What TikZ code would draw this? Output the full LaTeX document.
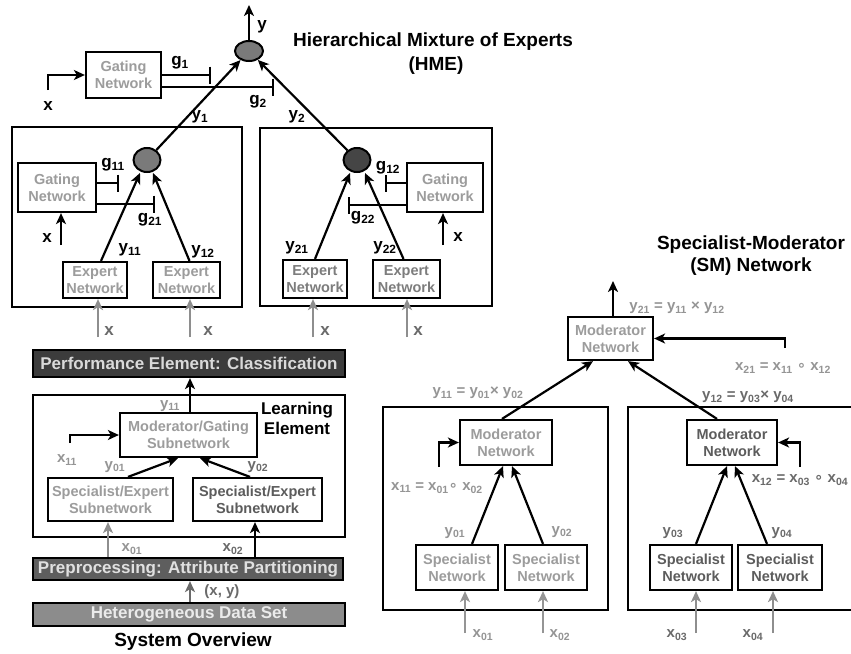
\documentclass[tikz,border=0pt]{standalone}
\usepackage{fontspec}
\setmainfont{Liberation Sans}
\newfontfamily\djv{DejaVu Sans}
\usetikzlibrary{arrows.meta,shapes.geometric}
\definecolor{txg}{HTML}{9C9C9C}
\definecolor{txd}{HTML}{5C5C5C}
\definecolor{labg}{HTML}{959595}
\definecolor{labd}{HTML}{6A6A6A}
\definecolor{perfc}{HTML}{3C3C3C}
\definecolor{prepc}{HTML}{5E5E5E}
\definecolor{hetc}{HTML}{8C8C8C}
\definecolor{circg}{HTML}{7A7A7A}
\definecolor{circd}{HTML}{454545}
\definecolor{inarc}{HTML}{8E8E8E}
\newcommand\bxf{\fontsize{14.5}{17}\selectfont\bfseries}
\newcommand\lbf{\fontsize{17}{19}\selectfont\bfseries}
\newcommand\glf{\fontsize{15}{17}\selectfont\bfseries}
\newcommand\bigf{\fontsize{17}{20}\selectfont\bfseries}
\newcommand\ttlf{\fontsize{19}{23}\selectfont\bfseries}
\newcommand\rng{{\djv ∘}}
\begin{document}
\begin{tikzpicture}[x=1pt,y=-1pt,
  box/.style={draw, line width=2.2pt, fill=white, inner sep=0pt, align=center, font=\bxf},
  frm/.style={draw, line width=2.2pt, inner sep=0pt},
  circ/.style={ellipse, draw, line width=2pt, inner sep=0pt},
  arr/.style={line width=2.2pt, -{Stealth[length=11pt,width=10pt,inset=3pt]}},
  inarr/.style={line width=2.2pt, draw=inarc, -{Stealth[length=11pt,width=10pt,inset=3pt]}},
  barl/.style={line width=2.2pt, -{Bar[width=17pt]}},
  lab/.style={font=\lbf, inner sep=0pt},
  glab/.style={font=\glf, inner sep=0pt, text=labg},
  dlab/.style={font=\glf, inner sep=0pt, text=labd},
  band/.style={draw, line width=2.2pt, inner sep=0pt, font=\bigf},
  ttl/.style={font=\ttlf, inner sep=0pt, align=center}]
\useasboundingbox (0,0) rectangle (851,653);
\fill[white] (0,0) rectangle (851,653);

% ================= HME =================
\node[ttl] (t1) at (433,42) {Hierarchical Mixture of Experts};
\node[ttl] (t2) at (436,66) {(HME)};

\node[frm, minimum width=230, minimum height=180] (hl) at (127,217) {};
\node[frm, minimum width=232, minimum height=178] (hr) at (376,217) {};

\node[circ, fill=circg, minimum width=28, minimum height=20] (c0) at (249,51) {};
\coordinate (yout) at (249,5);
\draw[arr] (c0) -- (yout);
\node[lab] (ly) at (262,27) {y};

\node[box, text=txg, minimum width=75, minimum height=46] (gt) at (123.5,75) {Gating\\Network};
\coordinate (xt) at (48,90);
\draw[arr] (xt) |- (gt.west);
\node[lab] (lx0) at (48,106) {x};
\coordinate (g1e) at (211,75);
\draw[barl] (gt.east) -- (g1e);
\coordinate (g2e) at (274,87);
\draw[barl] (gt.east |- g2e) -- (g2e);
\node[lab] (lg1) at (180,63) {g\textsubscript{1}};
\node[lab] (lg2) at (258,102) {g\textsubscript{2}};

\node[circ, fill=circg, minimum width=27, minimum height=24] (c1) at (147,160) {};
\node[circ, fill=circd, minimum width=27, minimum height=24] (c2) at (357,160) {};
\draw[arr] (c1) -- (c0);
\draw[arr] (c2) -- (c0);
\node[lab] (ly1) at (200,117) {y\textsubscript{1}};
\node[lab] (ly2) at (297,117) {y\textsubscript{2}};

% left inner
\node[box, text=txg, minimum width=78, minimum height=49] (gl) at (57,187.5) {Gating\\Network};
\coordinate (g11e) at (119,183);
\draw[barl] (gl.east |- g11e) -- (g11e);
\coordinate (g21e) at (155,204);
\draw[barl] (gl.east |- g21e) -- (g21e);
\node[lab] (lg11) at (113,165) {g\textsubscript{11}};
\node[lab] (lg21) at (150,220) {g\textsubscript{21}};
\coordinate (xg1) at (61,245);
\draw[arr] (xg1) -- (xg1 |- gl.south);
\node[lab] (lxg1) at (47,238) {x};

\node[box, text=txg, minimum width=64, minimum height=36] (e11) at (95,280) {Expert\\Network};
\node[box, text=txg, minimum width=67, minimum height=36] (e12) at (186.5,280) {Expert\\Network};
\draw[arr] ([xshift=6pt]e11.north) -- ([xshift=-7pt]c1.south);
\draw[arr] ([xshift=3pt]e12.north) -- ([xshift=6pt]c1.south);
\node[lab] (ly11) at (130,250) {y\textsubscript{11}};
\node[lab] (ly12) at (203,252) {y\textsubscript{12}};
\coordinate (i11) at (98,337);
\draw[inarr] (i11) -- (i11 |- e11.south);
\coordinate (i12) at (190,337);
\draw[inarr] (i12) -- (i12 |- e12.south);
\node[lab, text=labd] (lxi11) at (109,331) {x};
\node[lab, text=labd] (lxi12) at (208,331) {x};

% right inner
\node[box, text=txg, minimum width=76, minimum height=49] (gr) at (445,187.5) {Gating\\Network};
\coordinate (g12e) at (385,183);
\draw[barl] (gr.west |- g12e) -- (g12e);
\coordinate (g22e) at (348,205);
\draw[barl] (gr.west |- g22e) -- (g22e);
\node[lab] (lg12) at (388,168) {g\textsubscript{12}};
\node[lab] (lg22) at (363,218) {g\textsubscript{22}};
\coordinate (xg2) at (443,245);
\draw[arr] (xg2) -- (xg2 |- gr.south);
\node[lab] (lxg2) at (458,237) {x};

\node[box, text=txd!80, minimum width=64, minimum height=38] (e21) at (315,279) {Expert\\Network};
\node[box, text=txd!80, minimum width=67, minimum height=38] (e22) at (406.5,279) {Expert\\Network};
\draw[arr] (e21.north) -- ([xshift=-7pt]c2.south);
\draw[arr] ([xshift=-3pt]e22.north) -- ([xshift=8pt]c2.south);
\node[lab] (ly21) at (297,248) {y\textsubscript{21}};
\node[lab] (ly22) at (385,248) {y\textsubscript{22}};
\coordinate (i21) at (313,337);
\draw[inarr] (i21) -- (i21 |- e21.south);
\coordinate (i22) at (407,337);
\draw[inarr] (i22) -- (i22 |- e22.south);
\node[lab, text=labd] (lxi21) at (325,331) {x};
\node[lab, text=labd] (lxi22) at (418,331) {x};

% ================= System overview =================
\node[band, fill=perfc, text=white!85!black, minimum width=312, minimum height=27] (perf) at (189,363.5) {Performance Element: Classification};
\node[frm, minimum width=312, minimum height=142] (lel) at (189,466) {};
\node[font=\bigf, inner sep=0pt, align=center] (lelab) at (297,418) {Learning\\Element};
\node[box, text=txg, minimum width=137, minimum height=44] (mg) at (188.5,435) {Moderator/Gating\\Subnetwork};
\draw[arr] ([xshift=1.5pt]mg.north) -- ([xshift=1.5pt]mg.north |- perf.south);
\node[glab] (ly11s) at (170,406) {y\textsubscript{11}};
\coordinate (x11s) at (70,443);
\draw[arr] (x11s) |- (mg.west);
\node[glab] (lx11s) at (67,460) {x\textsubscript{11}};

\node[box, text=txg, minimum width=125, minimum height=43] (sl0) at (110.5,499.5) {Specialist/Expert\\Subnetwork};
\node[box, text=txd, minimum width=129, minimum height=43] (sr0) at (257.5,499.5) {Specialist/Expert\\Subnetwork};
\draw[arr] ([xshift=17.5pt]sl0.north) -- ([xshift=-10.5pt]mg.south);
\draw[arr] ([xshift=-7.5pt]sr0.north) -- ([xshift=11.5pt]mg.south);
\node[glab] (ly01s) at (115,467) {y\textsubscript{01}};
\node[dlab] (ly02s) at (258,467) {y\textsubscript{02}};

\node[band, fill=prepc, text=white!88!black, minimum width=310, minimum height=22] (prep) at (188,569) {Preprocessing: Attribute Partitioning};
\coordinate (p01) at (108,540);
\draw[inarr] (p01 |- prep.north) -- (p01 |- sl0.south);
\coordinate (p02) at (255,540);
\draw[arr] (p02 |- prep.north) -- (p02 |- sr0.south);
\node[glab] (lx01s) at (132,549) {x\textsubscript{01}};
\node[dlab] (lx02s) at (233,549) {x\textsubscript{02}};

\node[band, fill=hetc, text=white!92!black, minimum width=312, minimum height=23] (het) at (189,614.5) {Heterogeneous Data Set};
\coordinate (pxy) at (190,590);
\draw[line width=2.2pt, draw=labd, -{Stealth[length=11pt,width=10pt,inset=3pt]}] (pxy |- het.north) -- (pxy |- prep.south);
\node[dlab] (lxy) at (222,592) {(x, y)};
\node[ttl] (so) at (193,642) {System Overview};

% ================= SM network =================
\node[ttl] (t3) at (751,245) {Specialist-Moderator};
\node[ttl] (t4) at (751,267) {(SM) Network};

\node[box, text=txg, minimum width=85, minimum height=43] (tm) at (610.5,338.5) {Moderator\\Network};
\coordinate (yo) at (613,281);
\draw[arr] ([xshift=2.5pt]tm.north) -- (yo);
\node[glab] (ly21m) at (677,308) {y\textsubscript{21} = y\textsubscript{11} × y\textsubscript{12}};
\coordinate (x21) at (785,348);
\draw[arr] (x21) |- (tm.east);
\node[glab] (lx21m) at (783,368) {x\textsubscript{21} = x\textsubscript{11} \rng\ x\textsubscript{12}};

\node[frm, minimum width=225, minimum height=203] (sml) at (495.5,508.5) {};
\node[frm, minimum width=232, minimum height=203] (smr) at (744,508.5) {};

% left SM
\node[glab] (ly11m) at (478,393) {y\textsubscript{11} = y\textsubscript{01}× y\textsubscript{02}};
\node[box, text=txg, minimum width=92, minimum height=45] (lm) at (506,442.5) {Moderator\\Network};
\draw[arr] ([xshift=-4pt]lm.north) -- ([xshift=-17.5pt]tm.south);
\coordinate (x11m) at (439,467);
\draw[arr] (x11m) |- (lm.west);
\node[glab] (lx11m) at (437,488) {x\textsubscript{11} = x\textsubscript{01}\rng\ x\textsubscript{02}};
\node[box, text=txg, minimum width=82, minimum height=45] (sl) at (457,567.5) {Specialist\\Network};
\node[box, text=txg, minimum width=82, minimum height=45] (sr) at (546,567.5) {Specialist\\Network};
\draw[arr] ([xshift=15pt]sl.north) -- ([xshift=-3pt]lm.south);
\draw[arr] ([xshift=-3pt]sr.north) -- ([xshift=6pt]lm.south);
\node[glab] (ly01m) at (455,533) {y\textsubscript{01}};
\node[glab] (ly02m) at (562,532) {y\textsubscript{02}};
\coordinate (i01) at (465,633);
\draw[inarr, draw=labg] (i01) -- (i01 |- sl.south);
\coordinate (i02) at (543,633);
\draw[inarr, draw=labg] (i02) -- (i02 |- sr.south);
\node[glab] (lx01m) at (483,635) {x\textsubscript{01}};
\node[glab] (lx02m) at (560,635) {x\textsubscript{02}};

% right SM
\node[dlab] (ly12m) at (748,397) {y\textsubscript{12} = y\textsubscript{03}× y\textsubscript{04}};
\node[box, text=txd, minimum width=90, minimum height=45] (rm) at (732,442.5) {Moderator\\Network};
\draw[arr] ([xshift=-15pt]rm.north) -- ([xshift=17.5pt]tm.south);
\coordinate (x12m) at (800,467);
\draw[arr] (x12m) |- (rm.east);
\node[dlab] (lx12m) at (800,480) {x\textsubscript{12} = x\textsubscript{03} \rng\ x\textsubscript{04}};
\node[box, text=txd, minimum width=82, minimum height=45] (sl2) at (691,567.5) {Specialist\\Network};
\node[box, text=txd, minimum width=84, minimum height=45] (sr2) at (780,567.5) {Specialist\\Network};
\draw[arr] ([xshift=5pt]sl2.north) -- ([xshift=-5pt]rm.south);
\draw[arr] ([xshift=-13pt]sr2.north) -- ([xshift=3pt]rm.south);
\node[dlab] (ly03m) at (673,533) {y\textsubscript{03}};
\node[dlab] (ly04m) at (782,533) {y\textsubscript{04}};
\coordinate (i03) at (696,633);
\draw[inarr] (i03) -- (i03 |- sl2.south);
\coordinate (i04) at (773,633);
\draw[inarr] (i04) -- (i04 |- sr2.south);
\node[dlab] (lx03m) at (677,635) {x\textsubscript{03}};
\node[dlab] (lx04m) at (753,635) {x\textsubscript{04}};
\end{tikzpicture}
\end{document}
